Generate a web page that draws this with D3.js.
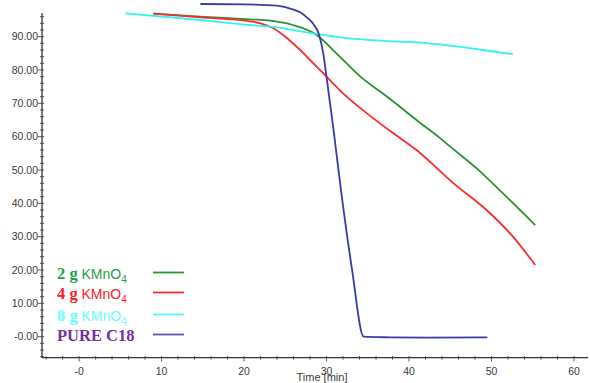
<!DOCTYPE html>
<html>
<head>
<meta charset="utf-8">
<script src="https://cdn.jsdelivr.net/npm/d3@7"></script>
<style>
  body { margin: 0; background: #fff; }
  .tick-label { font-family: "Liberation Sans", Arial, sans-serif; font-size: 10.5px; fill: #3a3a3a; }
</style>
</head>
<body>
<div id="chart"></div>
<script>
var svgWidth = 590;
var svgHeight = 383;

// Data (time in min, value)
var greenT = [9, 14.7, 20.7, 23.2, 25.9, 28.8, 31.2, 34.1, 36.8, 38.9, 40.9, 43.8, 45, 48.2, 51.8, 55.3];
var greenV = [96.9, 96, 95.2, 94.8, 93.5, 90.5, 85, 78, 73, 69, 65, 59.5, 57, 50.5, 42, 33.5];

var redT = [9, 14.7, 20.7, 22, 23.5, 25, 26.8, 28, 30, 32, 34.9, 38.1, 40.9, 45.4, 49.4, 52.6, 55.3];
var redV = [96.9, 95.8, 94.6, 94, 92.6, 90, 86, 83, 78, 73, 67, 61, 56, 46, 38, 30, 21.5];

var cyanT = [5.6, 14.7, 20.7, 23.2, 28.8, 32.8, 38.9, 40.9, 49, 52.6];
var cyanV = [97, 95, 93.5, 93, 90.8, 89.5, 88.5, 88.3, 86, 84.7];

var blueT = [14.7, 20, 24, 25.9, 26.8, 27.6, 28.4, 29.1, 29.6, 30.1, 30.8, 31.8, 33.1, 34.5, 37.7, 42, 49.5];
var blueV = [99.8, 99.7, 99.3, 98.2, 97.3, 95.8, 93.8, 90.5, 85, 76, 63, 43, 20, 0, -0.2, -0.3, -0.2];

var xTicks = [0, 10, 20, 30, 40, 50, 60];
var xTickLabels = ["-0", "10", "20", "30", "40", "50", "60"];
var yTicks = [0, 10, 20, 30, 40, 50, 60, 70, 80, 90];
var yTickLabels = ["-0.00", "10.00", "20.00", "30.00", "40.00", "50.00", "60.00", "70.00", "80.00", "90.00"];

var legendNames = ["2 g", "4 g", "8 g", "PURE C18"];
var legendTextColors = ["#1f9e48", "#ff2020", "#66ffff", "#7030a0"];
var lineColors = ["#2a9232", "#ff2a2a", "#33f2f2", "#3a3aa8"];
var legendLineColors = ["#2a9232", "#ff2a2a", "#55f5f5", "#6a4fb0"];

var svg = d3.select("#chart")
  .append("svg")
  .attr("width", svgWidth)
  .attr("height", svgHeight);

// Scales
var xScale = d3.scaleLinear()
  .domain([-4.5, 61.7])
  .range([42, 588]);

var yScale = d3.scaleLinear()
  .domain([-6.3, 97.1])
  .range([357.7, 13]);

var axisColor = "#333";

// Y axis
svg.append("line")
  .attr("x1", 42).attr("x2", 42)
  .attr("y1", yScale(97.1)).attr("y2", yScale(-6.3))
  .attr("stroke", axisColor).attr("stroke-width", 1.3);

d3.range(-6, 97, 2).forEach(function(v) {
  var major = v % 10 === 0;
  svg.append("line")
    .attr("x1", major ? 38 : 40).attr("x2", 44)
    .attr("y1", yScale(v)).attr("y2", yScale(v))
    .attr("stroke", axisColor).attr("stroke-width", 0.8);
});

svg.selectAll(".ylab")
  .data(yTicks)
  .enter()
  .append("text")
  .attr("class", "tick-label")
  .attr("x", 38)
  .attr("y", d => yScale(d) + 3.8)
  .attr("text-anchor", "end")
  .text((d, i) => yTickLabels[i]);

// X axis
svg.append("line")
  .attr("x1", 42).attr("x2", 588)
  .attr("y1", 357.7).attr("y2", 357.7)
  .attr("stroke", axisColor).attr("stroke-width", 1.3);

d3.range(-4, 62, 2).forEach(function(t) {
  var major = t % 10 === 0;
  svg.append("line")
    .attr("x1", xScale(t)).attr("x2", xScale(t))
    .attr("y1", 356).attr("y2", major ? 361.5 : 359.7)
    .attr("stroke", axisColor).attr("stroke-width", 0.8);
});

svg.selectAll(".xlab")
  .data(xTicks)
  .enter()
  .append("text")
  .attr("class", "tick-label")
  .attr("x", d => xScale(d))
  .attr("y", 375)
  .attr("text-anchor", "middle")
  .text((d, i) => xTickLabels[i]);

// axis title sits over the "30" label, as in the original
svg.append("text")
  .attr("class", "tick-label")
  .attr("x", 322)
  .attr("y", 381)
  .attr("text-anchor", "middle")
  .style("font-size", "11px")
  .text("Time [min]");

// Curves
var series = [
  {t: greenT, v: greenV},
  {t: redT, v: redV},
  {t: cyanT, v: cyanV},
  {t: blueT, v: blueV}
];

var line = d3.line()
  .x(d => xScale(d[0]))
  .y(d => yScale(d[1]))
  .curve(d3.curveMonotoneX);

series.forEach(function(s, i) {
  svg.append("path")
    .datum(d3.zip(s.t, s.v))
    .attr("d", line)
    .attr("fill", "none")
    .attr("stroke", lineColors[i])
    .attr("stroke-width", 1.8);
});

// Legend
var legendY = [273, 293, 315, 335];
legendNames.forEach(function(name, i) {
  var txt = svg.append("text")
    .attr("x", 57)
    .attr("y", legendY[i] + 5.5)
    .attr("fill", legendTextColors[i]);
  txt.append("tspan")
    .style("font-family", "'Liberation Serif', 'Times New Roman', serif")
    .style("font-weight", "bold")
    .style("font-size", "16.5px")
    .text(name);
  if (i < 3) {
    txt.append("tspan")
      .style("font-family", "'Liberation Sans', Arial, sans-serif")
      .style("font-size", "14px")
      .text(" KMnO");
    txt.append("tspan")
      .style("font-family", "'Liberation Sans', Arial, sans-serif")
      .style("font-size", "10px")
      .attr("dy", 4)
      .text("4");
  }
  svg.append("line")
    .attr("x1", 153).attr("x2", 184)
    .attr("y1", legendY[i] - 0.5).attr("y2", legendY[i] - 0.5)
    .attr("stroke", legendLineColors[i])
    .attr("stroke-width", 1.8);
});
</script>
</body>
</html>
